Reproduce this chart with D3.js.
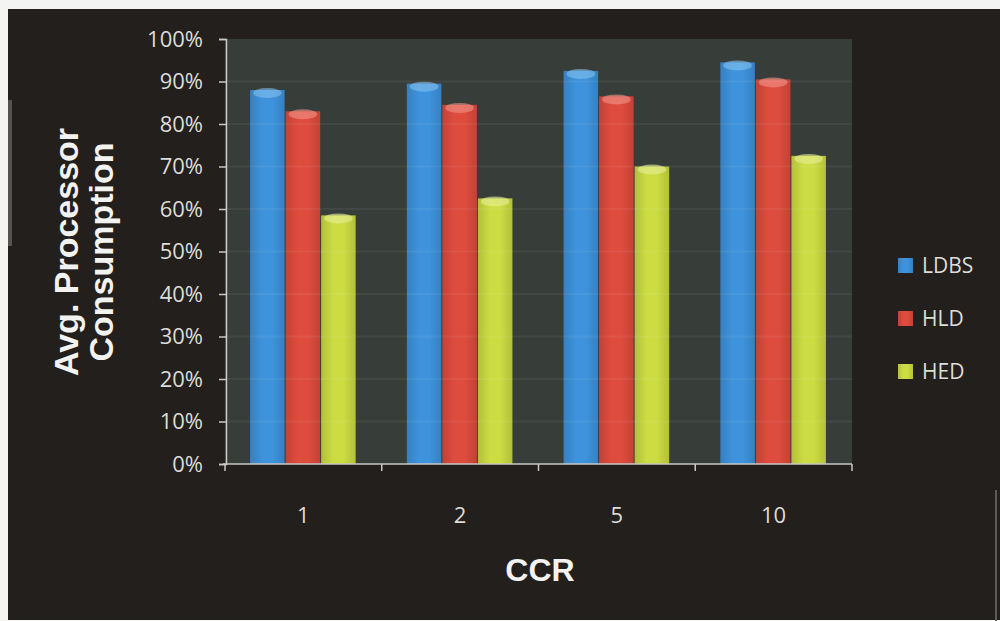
<!DOCTYPE html>
<html>
<head>
<meta charset="utf-8">
<script src="https://cdn.jsdelivr.net/npm/d3@7"></script>
<style>
  html, body { margin: 0; padding: 0; background: #ffffff; }
  svg { display: block; }
</style>
</head>
<body>
<svg id="chart" width="1000" height="621"></svg>
<script>
// CCR values on the x axis
const categories = ["1", "2", "5", "10"];
// series names shown in the legend
const seriesNames = ["LDBS", "HLD", "HED"];
// average processor consumption (%) per CCR
const ldbsValues = [88, 89.5, 92.5, 94.5];
const hldValues  = [83, 84.5, 86.5, 90.5];
const hedValues  = [58.5, 62.5, 70, 72.5];
// y axis ticks
const yTicks = [0, 10, 20, 30, 40, 50, 60, 70, 80, 90, 100];

const seriesValues = [ldbsValues, hldValues, hedValues];
const seriesColors = ["#3c8fd6", "#d84a3c", "#c6d640"];
const capColors    = ["#86bfee", "#f0958a", "#e8ef9a"];

const svg = d3.select("#chart");
const defs = svg.append("defs");

// frame: dark card on white paper
svg.append("rect").attr("x", 0).attr("y", 0).attr("width", 1000).attr("height", 621).attr("fill", "#f4f4f2");
svg.append("rect").attr("x", 8).attr("y", 9).attr("width", 992).attr("height", 611).attr("fill", "#231f1c");
svg.append("rect").attr("x", 8).attr("y", 100).attr("width", 4).attr("height", 146).attr("fill", "#55524f");
svg.append("rect").attr("x", 995).attr("y", 490).attr("width", 2).attr("height", 131).attr("fill", "#5d5a57");

const plot = { left: 225, right: 852, top: 39, bottom: 464 };

const x0 = d3.scaleBand()
  .domain(categories)
  .range([plot.left, plot.right])
  .paddingInner(0.32)
  .paddingOuter(0.16);

const x1 = d3.scaleBand()
  .domain(seriesNames)
  .range([0, x0.bandwidth()])
  .padding(0);

const y = d3.scaleLinear().domain([0, 100]).range([plot.bottom, plot.top]);

// plot background
svg.append("rect")
  .attr("x", plot.left).attr("y", plot.top)
  .attr("width", plot.right - plot.left).attr("height", plot.bottom - plot.top)
  .attr("fill", "#373d39");

// cylinder-like shading for each series
seriesColors.forEach((c, i) => {
  const g = defs.append("linearGradient").attr("id", "grad" + i)
    .attr("x1", "0%").attr("x2", "100%").attr("y1", "0%").attr("y2", "0%");
  const base = d3.color(c);
  g.append("stop").attr("offset", "0%").attr("stop-color", base.darker(0.3));
  g.append("stop").attr("offset", "35%").attr("stop-color", base.brighter(0.08));
  g.append("stop").attr("offset", "65%").attr("stop-color", base.brighter(0.08));
  g.append("stop").attr("offset", "100%").attr("stop-color", base.darker(0.3));
});

// bars
const groups = svg.append("g").selectAll("g")
  .data(categories)
  .join("g")
  .attr("transform", d => `translate(${x0(d)},0)`);

groups.each(function (cat, ci) {
  const g = d3.select(this);
  seriesNames.forEach((s, si) => {
    const v = seriesValues[si][ci];
    const bx = x1(s), bw = x1.bandwidth() - 1;
    g.append("rect")
      .attr("x", bx).attr("y", y(v))
      .attr("width", bw).attr("height", y(0) - y(v))
      .attr("fill", `url(#grad${si})`);
    // rounded top cap highlight
    g.append("ellipse")
      .attr("cx", bx + bw / 2).attr("cy", y(v) + 3)
      .attr("rx", bw / 2 - 3).attr("ry", 5)
      .attr("fill", capColors[si]).attr("opacity", 0.6);
  });
});

// faint gridlines drawn over the bars
svg.append("g").selectAll("line")
  .data(yTicks.slice(1, -1))
  .join("line")
  .attr("x1", plot.left).attr("x2", plot.right)
  .attr("y1", d => y(d)).attr("y2", d => y(d))
  .attr("stroke", "#ffffff").attr("stroke-opacity", 0.055).attr("stroke-width", 2);

// y axis
const yAxis = svg.append("g")
  .attr("transform", `translate(${plot.left + 1},0)`)
  .call(d3.axisLeft(y).tickValues(yTicks).tickFormat(d => d + "%").tickSize(7).tickPadding(16));
yAxis.select(".domain").attr("stroke", "#c8c8c4").attr("stroke-width", 1.5);
yAxis.selectAll(".tick line").attr("stroke", "#c8c8c4").attr("stroke-width", 1.5);
yAxis.selectAll(".tick text")
  .attr("fill", "#dcdcd8")
  .style("font-family", "'Open Sans', sans-serif")
  .style("font-size", "22px");

// x axis: category boundaries get the ticks
const xAxisG = svg.append("g");
xAxisG.append("line")
  .attr("x1", plot.left - 2).attr("x2", plot.right)
  .attr("y1", plot.bottom).attr("y2", plot.bottom)
  .attr("stroke", "#c8c8c4").attr("stroke-width", 1.5);
const step = x0.step();
const boundaries = categories.map(c => x0(c) - x0.paddingOuter() * step).concat([plot.right]);
xAxisG.selectAll("line.tk")
  .data(boundaries)
  .join("line").attr("class", "tk")
  .attr("x1", d => d).attr("x2", d => d)
  .attr("y1", plot.bottom).attr("y2", plot.bottom + 7)
  .attr("stroke", "#c8c8c4").attr("stroke-width", 1.5);
xAxisG.selectAll("text")
  .data(categories)
  .join("text")
  .attr("x", d => x0(d) + x0.bandwidth() / 2)
  .attr("y", 523)
  .attr("text-anchor", "middle")
  .attr("fill", "#dcdcd8")
  .style("font-family", "'Open Sans', sans-serif")
  .style("font-size", "22px")
  .text(d => d);

// axis titles
svg.append("text")
  .attr("x", 540).attr("y", 581)
  .attr("text-anchor", "middle")
  .attr("fill", "#f2f2f0")
  .style("font-family", "'Liberation Sans', Arial, sans-serif")
  .style("font-weight", "bold")
  .style("font-size", "32px")
  .text("CCR");

const yTitle = svg.append("text")
  .attr("transform", "translate(0,252) rotate(-90)")
  .attr("text-anchor", "middle")
  .attr("fill", "#f2f2f0")
  .style("font-family", "'Liberation Sans', Arial, sans-serif")
  .style("font-weight", "bold")
  .style("font-size", "34px");
yTitle.append("tspan").attr("x", 0).attr("y", 78).text("Avg. Processor");
yTitle.append("tspan").attr("x", 0).attr("y", 113).text("Consumption");

// legend
const legend = svg.append("g").attr("transform", "translate(898,258)");
seriesNames.forEach((s, i) => {
  const row = legend.append("g").attr("transform", `translate(0,${i * 53})`);
  row.append("rect").attr("x", 0).attr("y", 0).attr("width", 15).attr("height", 15)
    .attr("fill", `url(#grad${i})`);
  row.append("text").attr("x", 24).attr("y", 15)
    .attr("fill", "#dcdcd8")
    .style("font-family", "'Open Sans', sans-serif")
    .style("font-size", "21px")
    .text(s);
});
</script>
</body>
</html>
